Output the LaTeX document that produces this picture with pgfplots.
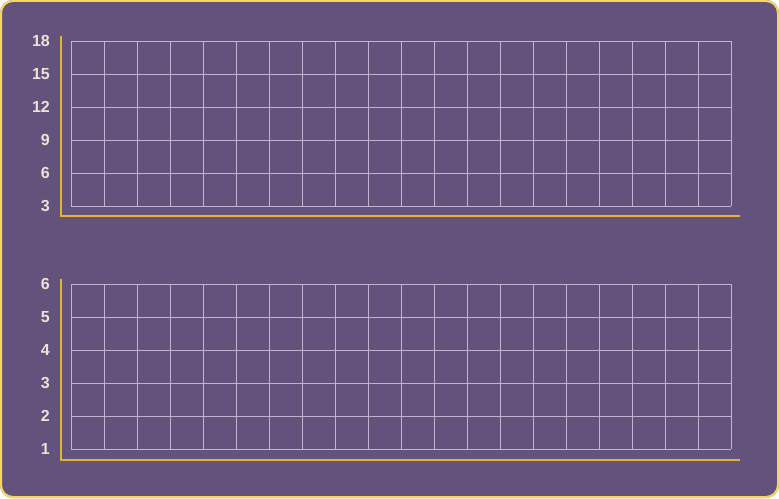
\documentclass[border=0pt]{standalone}
\usepackage{pgfplots}
\pgfplotsset{compat=1.18}
\usepackage{fontspec}
\setmainfont{Liberation Sans}
\definecolor{bgpurple}{HTML}{62527C}
\definecolor{borderyellow}{HTML}{F8D65E}
\definecolor{axisgold}{HTML}{E2B52E}
\definecolor{gridlav}{HTML}{C2B3D3}
\definecolor{labelcol}{HTML}{EDE2D6}
\pgfplotsset{
  panel/.style={
    scale only axis, width=660pt, height=165pt,
    xmin=0, xmax=20, xtick={0,1,...,20}, xticklabels={},
    axis line style={draw=none},
    major tick length=0pt,
    grid=major,
    grid style={draw=gridlav, line width=0.9pt},
    tick label style={font=\fontsize{16}{18}\selectfont\bfseries},
    yticklabel style={inner sep=0pt, anchor=east, xshift=-21pt, text=labelcol},
    /pgf/number format/assume math mode=true,
  }
}
\begin{document}
\begin{tikzpicture}[x=1pt,y=1pt]
\useasboundingbox (0,0) rectangle (779,498);
\fill[bgpurple, rounded corners=13pt] (0,0) rectangle (779,498);
\draw[borderyellow, line width=2pt, rounded corners=12pt] (1,1) rectangle (778,497);
\begin{axis}[panel, at={(71pt,292pt)}, anchor=south west,
  ymin=3, ymax=18, ytick={3,6,...,18}]
\end{axis}
\begin{axis}[panel, at={(71pt,49pt)}, anchor=south west,
  ymin=1, ymax=6, ytick={1,2,...,6}]
\end{axis}
\draw[axisgold, line width=2pt] (60.5,462) -- (60.5,282) -- (740,282);
\draw[axisgold, line width=2pt] (60.5,219) -- (60.5,38) -- (740,38);
\end{tikzpicture}
\end{document}
